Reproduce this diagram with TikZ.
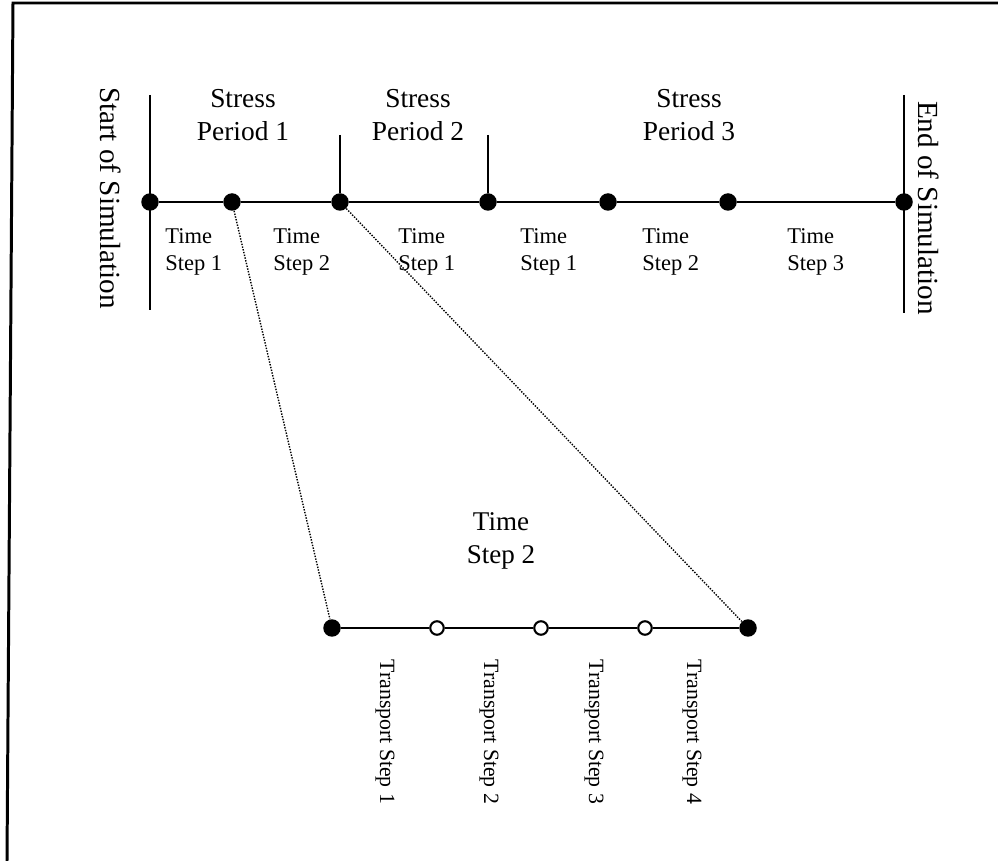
\documentclass[tikz,border=0pt]{standalone}
\usepackage{fontspec}
\setmainfont{Liberation Serif}
\begin{document}
\begin{tikzpicture}[x=0.02cm,y=-0.02cm,
  fdot/.style={circle,fill=black,draw=none,inner sep=0pt,minimum size=0.35cm},
  odot/.style={circle,fill=white,draw=black,line width=1.2pt,inner sep=0pt,minimum size=0.27cm},
  tline/.style={line width=1.5pt},
  vline/.style={line width=1.2pt},
  dotline/.style={line width=0.8pt,dash pattern=on 0.8pt off 0.8pt},
  frame/.style={line width=1.7pt},
  splab/.style={font=\fontsize{15.6}{18.3}\selectfont,align=center,inner sep=0pt},
  tslab/.style={font=\fontsize{12.8}{15}\selectfont,align=left,anchor=west,inner sep=0pt},
  simlab/.style={font=\fontsize{16.6}{18}\selectfont,rotate=-90,inner sep=0pt},
  trlab/.style={font=\fontsize{12.4}{14}\selectfont,rotate=-90,inner sep=0pt},
  biglab/.style={font=\fontsize{15.4}{18.7}\selectfont,align=center,inner sep=0pt}]
\useasboundingbox (0,0) rectangle (998,861);
% frame (open at right and bottom)
\coordinate (fa) at (7,861);
\coordinate (fb) at (13,3);
\coordinate (fc) at (998,3);
\draw[frame] (fa) -- (fb) -- (fc);
% start / end vertical lines
\coordinate (st) at (150,95);
\coordinate (sb) at (150,310);
\coordinate (et) at (904,95);
\coordinate (eb) at (904,313);
\draw[vline] (st) -- (sb);
\draw[vline] (et) -- (eb);
% upper dots
\node[fdot] (s1) at (150,202) {};
\node[fdot] (s2) at (232,202) {};
\node[fdot] (s3) at (340,202) {};
\node[fdot] (s4) at (488,202) {};
\node[fdot] (s5) at (608,202) {};
\node[fdot] (s6) at (728,202) {};
\node[fdot] (s7) at (904,202) {};
\draw[tline] (s1) -- (s2) -- (s3) -- (s4) -- (s5) -- (s6) -- (s7);
% stress period ticks
\coordinate (k1) at (340,135);
\coordinate (k2) at (488,135);
\draw[vline] (k1) -- (s3);
\draw[vline] (k2) -- (s4);
% labels
\node[simlab] (start) at (111,198) {Start of Simulation};
\node[simlab] (end) at (929,208) {End of Simulation};
\node[splab] (sp1) at (243,115) {Stress\\Period 1};
\node[splab] (sp2) at (418,115) {Stress\\Period 2};
\node[splab] (sp3) at (689,115) {Stress\\Period 3};
\node[tslab] (t1) at (165,252) {Time\\Step 1};
\node[tslab] (t2) at (273,252) {Time\\Step 2};
\node[tslab] (t3) at (398,252) {Time\\Step 1};
\node[tslab] (t4) at (520,252) {Time\\Step 1};
\node[tslab] (t5) at (642,252) {Time\\Step 2};
\node[tslab] (t6) at (787,252) {Time\\Step 3};
% lower detail
\node[fdot] (b1) at (332,628) {};
\node[odot] (b2) at (437,628) {};
\node[odot] (b3) at (541,628) {};
\node[odot] (b4) at (645,628) {};
\node[fdot] (b5) at (748,628) {};
\draw[tline] (b1) -- (b2) -- (b3) -- (b4) -- (b5);
\node[biglab] (zoomlab) at (501,541) {Time\\Step 2};
\node[trlab] (r1) at (385,732) {Transport Step 1};
\node[trlab] (r2) at (489,732) {Transport Step 2};
\node[trlab] (r3) at (594,732) {Transport Step 3};
\node[trlab] (r4) at (692,732) {Transport Step 4};
% dotted zoom lines
\draw[dotline] (s2) -- (b1);
\draw[dotline] (s3) -- (b5);
\end{tikzpicture}
\end{document}
